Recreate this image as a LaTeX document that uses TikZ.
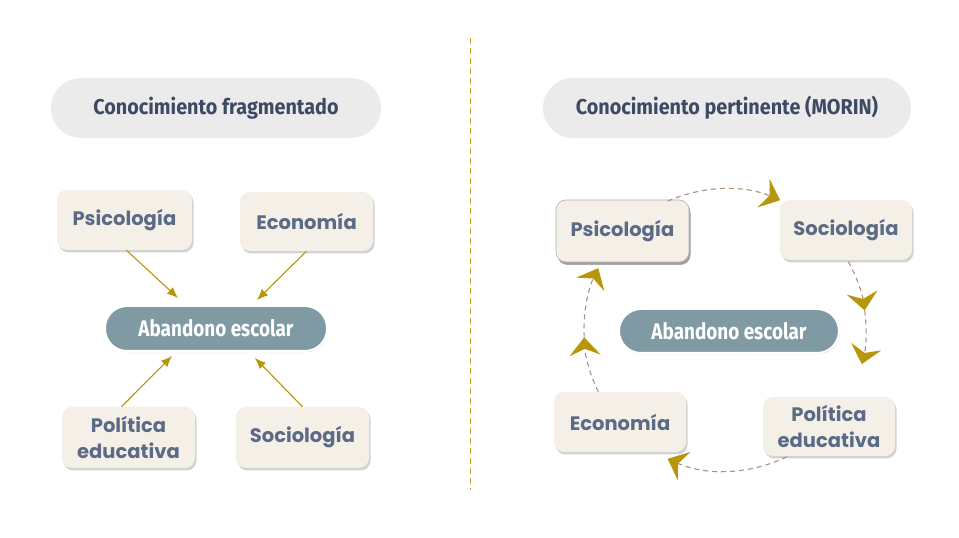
\documentclass[tikz,border=0pt]{standalone}
\usepackage{fontspec}
\usetikzlibrary{arrows.meta,shadows,calc}
\newfontfamily\boxfont{Poppins}
\newfontfamily\titlefont[FakeStretch=0.92]{Fira Sans}
\newfontfamily\condfont[FakeStretch=0.84]{Fira Sans}
\definecolor{boxfill}{HTML}{F4F0E8}
\definecolor{boxtext}{HTML}{5A6A87}
\definecolor{abfill}{HTML}{7F9AA3}
\definecolor{titlefill}{HTML}{EBEBEB}
\definecolor{titletext}{HTML}{3D4A64}
\definecolor{gold}{HTML}{B8960C}
\definecolor{divgold}{HTML}{C9A227}
\definecolor{circdash}{HTML}{A8947A}
\begin{document}
\begin{tikzpicture}[x=1pt,y=1pt,
  catbox/.style={rectangle, rounded corners=10pt, fill=boxfill, text=boxtext,
    font=\boxfont\bfseries\fontsize{19.5}{26}\selectfont, align=center, inner sep=0pt,
    drop shadow={shadow xshift=1.5pt, shadow yshift=-2.5pt, opacity=0.35, fill=gray}},
  centerbox/.style={rectangle, rounded corners=22pt, fill=abfill, draw=white, line width=2pt,
    text=white, font=\condfont\bfseries\fontsize{22.5}{26}\selectfont, inner sep=0pt,
    drop shadow={shadow xshift=0.8pt, shadow yshift=-1.2pt, opacity=0.3, fill=gray}},
  titlebox/.style={rectangle, rounded corners=30pt, fill=titlefill, text=titletext,
    font=\titlefont\bfseries\fontsize{21.5}{24}\selectfont, inner sep=0pt, minimum height=60pt},
  larrow/.style={draw=gold, line width=1.1pt, -{Latex[length=11pt,width=9pt]}},
  carc/.style={draw=circdash, line width=1.1pt, dash pattern=on 5pt off 4pt},
  ctip/.style={-{Stealth[length=18pt,width=31pt,inset=6.5pt,color=gold,fill=gold]}},
]
\useasboundingbox (0,0) rectangle (959,538);
\fill[white] (0,0) rectangle (959,538);

% divider
\coordinate (divtop) at (470,500);
\coordinate (divbot) at (470,48);
\draw[divgold, line width=1pt, dash pattern=on 6pt off 4pt] (divtop) -- (divbot);

% titles
\node[titlebox, minimum width=330pt] (tL) at (216,430) {Conocimiento fragmentado};
\node[titlebox, minimum width=368pt] (tR) at (727,430) {Conocimiento pertinente (MORIN)};

% left diagram
\node[catbox, minimum width=135pt, minimum height=60pt] (psiL) at (124.5,318) {Psicología};
\node[catbox, minimum width=133pt, minimum height=59pt] (ecoL) at (306.5,316.5) {Economía};
\node[centerbox, minimum width=222pt, minimum height=45pt] (abL) at (216,209.5) {Abandono escolar};
\node[catbox, minimum width=133pt, minimum height=61pt] (polL) at (128.5,100.5) {Política\\educativa};
\node[catbox, minimum width=133pt, minimum height=61pt] (socL) at (302.5,100.5) {Sociología};

\draw[larrow] ([xshift=2pt]psiL.south) -- ([xshift=-38pt,yshift=7pt]abL.north);
\draw[larrow] (ecoL.south) -- ([xshift=41pt,yshift=5pt]abL.north);
\draw[larrow] ([xshift=-7pt]polL.north) -- ([xshift=-44pt,yshift=-4pt]abL.south);
\draw[larrow] (socL.north) -- ([xshift=39pt,yshift=-6pt]abL.south);

% right diagram
\coordinate (cc) at (725,208);
\node[catbox, minimum width=133pt, minimum height=62pt, draw=gray!60, line width=0.6pt,
  drop shadow={shadow xshift=1.5pt, shadow yshift=-3pt, opacity=0.6, fill=gray}] (psiR) at (622.5,307) {Psicología};
\node[catbox, minimum width=132pt, minimum height=60pt] (socR) at (846,308) {Sociología};
\node[centerbox, minimum width=220pt, minimum height=44pt] (abR) at (729,207) {Abandono escolar};
\node[catbox, minimum width=132pt, minimum height=60pt] (ecoR) at (620,116) {Economía};
\node[catbox, minimum width=132pt, minimum height=59pt] (polR) at (829,111.5) {Política\\educativa};

% cycle arcs
\draw[carc, ctip] ($(cc)+(114:141)$) arc[start angle=114, end angle=67, radius=141];
\draw[carc, ctip] ($(cc)+(29:141)$) arc[start angle=29, end angle=8, radius=141];
\draw[carc, ctip] ($(cc)+(8:141)$) arc[start angle=8, end angle=-14, radius=141];
\draw[carc, ctip] ($(cc)+(-64:141)$) arc[start angle=-64, end angle=-114, radius=141];
\draw[carc, ctip] ($(cc)+(206:141)$) arc[start angle=206, end angle=183, radius=141];
\draw[carc, ctip] ($(cc)+(183:141)$) arc[start angle=183, end angle=154, radius=141];
\end{tikzpicture}
\end{document}
